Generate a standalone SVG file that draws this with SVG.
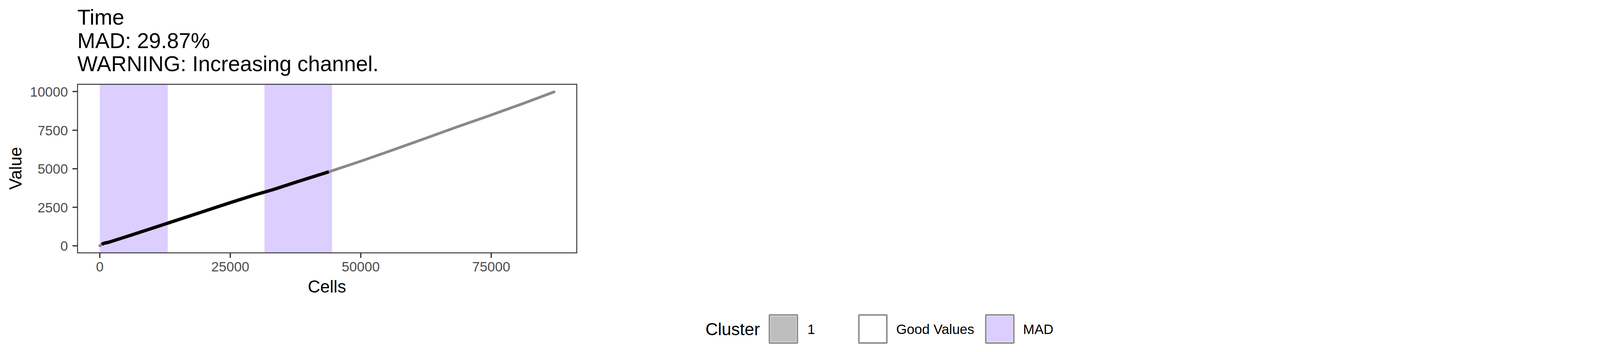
<svg xmlns="http://www.w3.org/2000/svg" width="4500" height="900" viewBox="0 0 4500 900">
  <style>
    .title { font-family: "Liberation Sans", Arial, sans-serif; font-size: 55px; fill: #000000; }
    .tick { font-family: "Liberation Sans", Arial, sans-serif; font-size: 35px; fill: #4D4D4D; }
    .axtitle { font-family: "Liberation Sans", Arial, sans-serif; font-size: 44px; fill: #000000; }
    .legtxt { font-family: "Liberation Sans", Arial, sans-serif; font-size: 35px; fill: #000000; }
    .tk { stroke: #333333; stroke-width: 3.2; }
    .keybox { stroke: #8E8E8E; stroke-width: 4; }
    .band { fill: #DCCEFF; }
  </style>
  <rect x="0" y="0" width="4500" height="900" fill="#FFFFFF"/>

  <g id="plot-title">
    <text class="title" x="198" y="62.7">Time</text>
    <text class="title" x="198" y="122.7">MAD: 29.87%</text>
    <text class="title" x="198" y="181.7">WARNING: Increasing channel.</text>
  </g>

  <g id="panel">
    <rect x="198.5" y="215.5" width="1278" height="431" fill="#FFFFFF"/>
    <g id="mad-bands">
      <rect class="band" x="255.5" y="216" width="174" height="430"/>
      <rect class="band" x="677" y="216" width="173" height="430"/>
    </g>
    <g id="data-lines" fill="none" stroke-linejoin="round">
      <polyline stroke="#898989" stroke-width="7" stroke-linecap="round"
        points="255.5,628.3 262,624.5 268,622.5 278,619.5 330,603 429,570.7 500,547.5 590,518 650,499 700,484.5 760,465 841.7,439.3 924,412 1000,385.5 1094,352 1170,324.5 1250,296.7 1343,263.3 1418.3,235"/>
      <polyline stroke="#000000" stroke-width="8.5" stroke-linecap="butt"
        points="261,625.5 264,622.5 268,621.5 278,619.5 330,603 429,570.7 500,547.5 590,518 650,499 700,484.5 760,465 841.7,439.3"/>
    </g>
    <rect x="198.5" y="215.5" width="1278" height="431" fill="none" stroke="#333333" stroke-width="2.4"/>
  </g>

  <g id="y-axis">
    <line class="tk" x1="185.5" y1="234" x2="198" y2="234"/>
    <line class="tk" x1="185.5" y1="333" x2="198" y2="333"/>
    <line class="tk" x1="185.5" y1="431.5" x2="198" y2="431.5"/>
    <line class="tk" x1="185.5" y1="530" x2="198" y2="530"/>
    <line class="tk" x1="185.5" y1="628.5" x2="198" y2="628.5"/>
    <text class="tick" x="174" y="246.7" text-anchor="end">10000</text>
    <text class="tick" x="174" y="345.7" text-anchor="end">7500</text>
    <text class="tick" x="174" y="444.2" text-anchor="end">5000</text>
    <text class="tick" x="174" y="542.7" text-anchor="end">2500</text>
    <text class="tick" x="174" y="641.2" text-anchor="end">0</text>
    <text class="axtitle" transform="translate(55,430.5) rotate(-90)" text-anchor="middle">Value</text>
  </g>

  <g id="x-axis">
    <line class="tk" x1="255.5" y1="647" x2="255.5" y2="659.5"/>
    <line class="tk" x1="589.5" y1="647" x2="589.5" y2="659.5"/>
    <line class="tk" x1="923.5" y1="647" x2="923.5" y2="659.5"/>
    <line class="tk" x1="1257.5" y1="647" x2="1257.5" y2="659.5"/>
    <text class="tick" x="255.5" y="694" text-anchor="middle">0</text>
    <text class="tick" x="589.5" y="694" text-anchor="middle">25000</text>
    <text class="tick" x="923.5" y="694" text-anchor="middle">50000</text>
    <text class="tick" x="1257.5" y="694" text-anchor="middle">75000</text>
    <text class="axtitle" x="837" y="748.3" text-anchor="middle">Cells</text>
  </g>

  <g id="legend">
    <text class="axtitle" x="1806" y="856.7">Cluster</text>
    <g id="key-cluster-1">
      <rect class="keybox" x="1969.7" y="805.3" width="71.6" height="71.6" rx="1.5" fill="#FFFFFF"/>
      <rect x="1972.7" y="808.3" width="65.6" height="65.6" fill="#BEBEBE"/>
      <text class="legtxt" x="2067" y="854">1</text>
    </g>
    <g id="key-good-values">
      <rect class="keybox" x="2198.7" y="805.3" width="71.6" height="71.6" rx="1.5" fill="#FFFFFF"/>
      <text class="legtxt" x="2294.3" y="854">Good Values</text>
    </g>
    <g id="key-mad">
      <rect class="keybox" x="2523.7" y="805.3" width="71.6" height="71.6" rx="1.5" fill="#FFFFFF"/>
      <rect x="2526.7" y="808.3" width="65.6" height="65.6" fill="#DCCEFF"/>
      <text class="legtxt" x="2619" y="854">MAD</text>
    </g>
  </g>
</svg>
